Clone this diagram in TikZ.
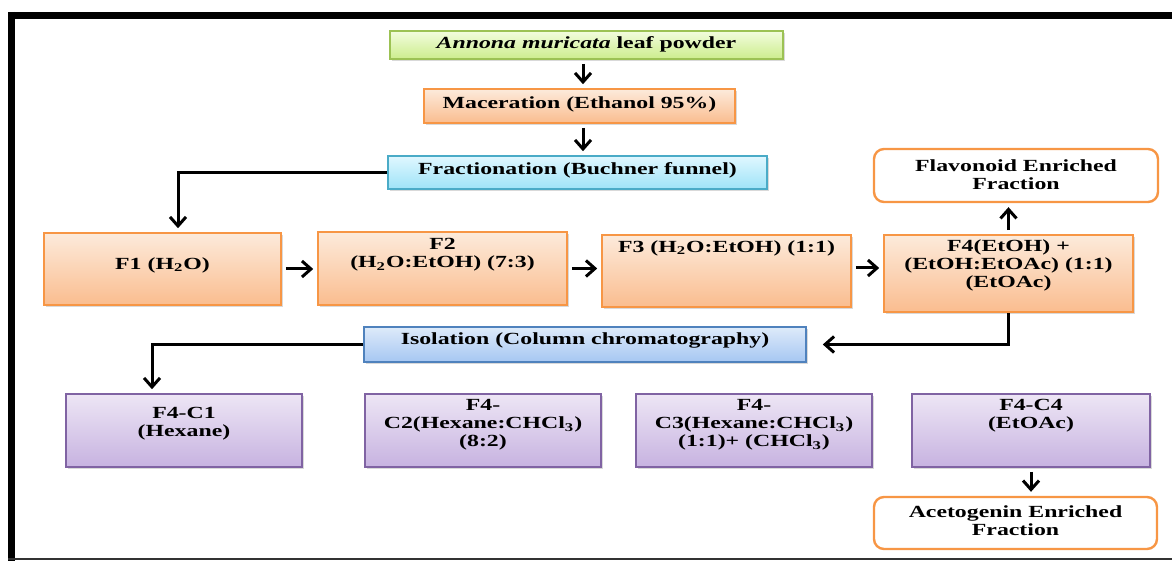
\documentclass[tikz,border=0pt]{standalone}
\usepackage{xcolor}
\usepackage{fontspec}
\usepackage{tikz}
\setmainfont{Liberation Serif}[FakeStretch=1.4]
\usetikzlibrary{arrows.meta}
\usetikzlibrary{shadows}
\definecolor{greentop}{rgb}{0.95,0.99,0.87}
\definecolor{greenbot}{rgb}{0.80,0.93,0.55}
\definecolor{greenline}{rgb}{0.61,0.76,0.33}
\definecolor{orangetop}{rgb}{0.99,0.92,0.86}
\definecolor{orangebot}{rgb}{0.98,0.74,0.56}
\definecolor{orangeline}{rgb}{0.97,0.59,0.27}
\definecolor{cyantop}{rgb}{0.88,0.97,1.}
\definecolor{cyanbot}{rgb}{0.62,0.89,0.97}
\definecolor{cyanline}{rgb}{0.29,0.67,0.78}
\definecolor{bluetop}{rgb}{0.87,0.92,0.98}
\definecolor{bluebot}{rgb}{0.65,0.78,0.95}
\definecolor{blueline}{rgb}{0.31,0.51,0.74}
\definecolor{purpletop}{rgb}{0.93,0.90,0.96}
\definecolor{purplebot}{rgb}{0.78,0.70,0.88}
\definecolor{purpleline}{rgb}{0.50,0.39,0.64}
\tikzstyle{every node}=[font=\bfseries\fontsize{8.5}{9}\selectfont]
\tikzset{
  box/.style={rectangle,inner sep=0pt,line width=0.8pt,drop shadow={shadow xshift=0.8pt,shadow yshift=-0.8pt,opacity=0.3}},
  greenbox/.style={box,draw=greenline,top color=greentop,bottom color=greenbot},
  orangebox/.style={box,draw=orangeline,top color=orangetop,bottom color=orangebot},
  cyanbox/.style={box,draw=cyanline,top color=cyantop,bottom color=cyanbot},
  bluebox/.style={box,draw=blueline,top color=bluetop,bottom color=bluebot},
  purplebox/.style={box,draw=purpleline,top color=purpletop,bottom color=purplebot},
  endbox/.style={rectangle,rounded corners=5pt,draw=orangeline,line width=1.2pt,fill=white},
  txt/.style={align=center,inner sep=0pt},
  arr/.style={->,line width=1.5pt,shorten <=2pt,shorten >=2pt}
}
\begin{document}
\begin{tikzpicture}[line cap=butt,line join=miter,>={Straight Barb[length=4.5pt,width=8pt,line width=1.5pt]},x=0.5pt,y=-0.5pt]
            \useasboundingbox (0,0) rectangle (1172,561);
            % frame
            \draw [line width=3.5pt] (8,15.5) -- (1172,15.5);
            \draw [line width=3.5pt] (11.5,12) -- (11.5,561);
            \draw [line width=0.7pt,color=black!80] (8,559) -- (1172,559);
            % boxes
            \node [greenbox,minimum width=196.5pt,minimum height=14pt] (leaf) at (586.5,45) {};
            \node [orangebox,minimum width=155.5pt,minimum height=17pt] (mac) at (579.5,106) {};
            \node [cyanbox,minimum width=189.5pt,minimum height=16.5pt] (frac) at (577.5,172.5) {};
            \node [endbox,minimum width=142pt,minimum height=26.5pt] (flav) at (1016,175.5) {};
            \node [orangebox,minimum width=118.5pt,minimum height=36pt] (f1) at (162.5,269) {};
            \node [orangebox,minimum width=124.5pt,minimum height=36.5pt] (f2) at (442.5,268.5) {};
            \node [orangebox,minimum width=124.5pt,minimum height=36pt] (f3) at (726.5,271) {};
            \node [orangebox,minimum width=124.5pt,minimum height=38.5pt] (f4) at (1008.5,273.5) {};
            \node [bluebox,minimum width=221pt,minimum height=17.5pt] (iso) at (585,344.5) {};
            \node [purplebox,minimum width=118pt,minimum height=36.5pt] (c1) at (184,430.5) {};
            \node [purplebox,minimum width=118pt,minimum height=36.5pt] (c2) at (483,430.5) {};
            \node [purplebox,minimum width=118pt,minimum height=36.5pt] (c3) at (754,430.5) {};
            \node [purplebox,minimum width=119pt,minimum height=36.5pt] (c4) at (1031,430.5) {};
            \node [endbox,minimum width=141.5pt,minimum height=26pt] (acet) at (1015.5,523) {};
            % texts
            \node [txt] (leaftxt) at (586.5,44) {\textit{Annona muricata} leaf powder};
            \node [txt] (mactxt) at (579.5,104) {Maceration (Ethanol 95\%)};
            \node [txt] (fractxt) at (577.5,170) {Fractionation (Buchner funnel)};
            \node [txt] (flavtxt) at (1016,175) {Flavonoid Enriched\\Fraction};
            \node [txt] (f1txt) at (162.5,265) {F1 (H\textsubscript{2}O)};
            \node [txt] (f2txt) at (442.5,255) {F2\\(H\textsubscript{2}O:EtOH) (7:3)};
            \node [txt] (f3txt) at (726.5,248) {F3 (H\textsubscript{2}O:EtOH) (1:1)};
            \node [txt] (f4txt) at (1008.5,265) {F4(EtOH) +\\(EtOH:EtOAc) (1:1)\\(EtOAc)};
            \node [txt] (isotxt) at (585,340) {Isolation (Column chromatography)};
            \node [txt] (c1txt) at (184,424) {F4-C1\\(Hexane)};
            \node [txt] (c2txt) at (483,425) {F4-\\C2(Hexane:CHCl\textsubscript{3})\\(8:2)};
            \node [txt] (c3txt) at (754,425) {F4-\\C3(Hexane:CHCl\textsubscript{3})\\(1:1)+ (CHCl\textsubscript{3})};
            \node [txt] (c4txt) at (1031,416) {F4-C4\\(EtOAc)};
            \node [txt] (acettxt) at (1015.5,521) {Acetogenin Enriched\\Fraction};
            % connectors
            \draw [arr] ([xshift=1.75pt]leaf.south -| mac.north) -- ([xshift=1.75pt]mac.north);
            \draw [arr] ([xshift=1.75pt]mac.south) -- ([xshift=1.75pt]mac.south |- frac.north);
            \draw [arr,shorten <=0pt] (frac.west) -| ([xshift=7.75pt]f1.north);
            \draw [arr] (f1.east) -- (f1.east -| f2.west);
            \draw [arr] (f2.east) -- (f2.east -| f3.west);
            \draw [arr] ([yshift=1.5pt]f3.east) -- ([yshift=1.5pt]f3.east -| f4.west);
            \draw [arr] (f4.north) -- (f4.north |- flav.south);
            \draw [arr,shorten <=0pt,shorten >=8pt] (f4.south) |- (iso.east);
            \draw [arr,shorten <=0pt] (iso.west) -| ([xshift=-16pt]c1.north);
            \draw [arr] (c4.south) -- (c4.south |- acet.north);
\end{tikzpicture}
\end{document}
